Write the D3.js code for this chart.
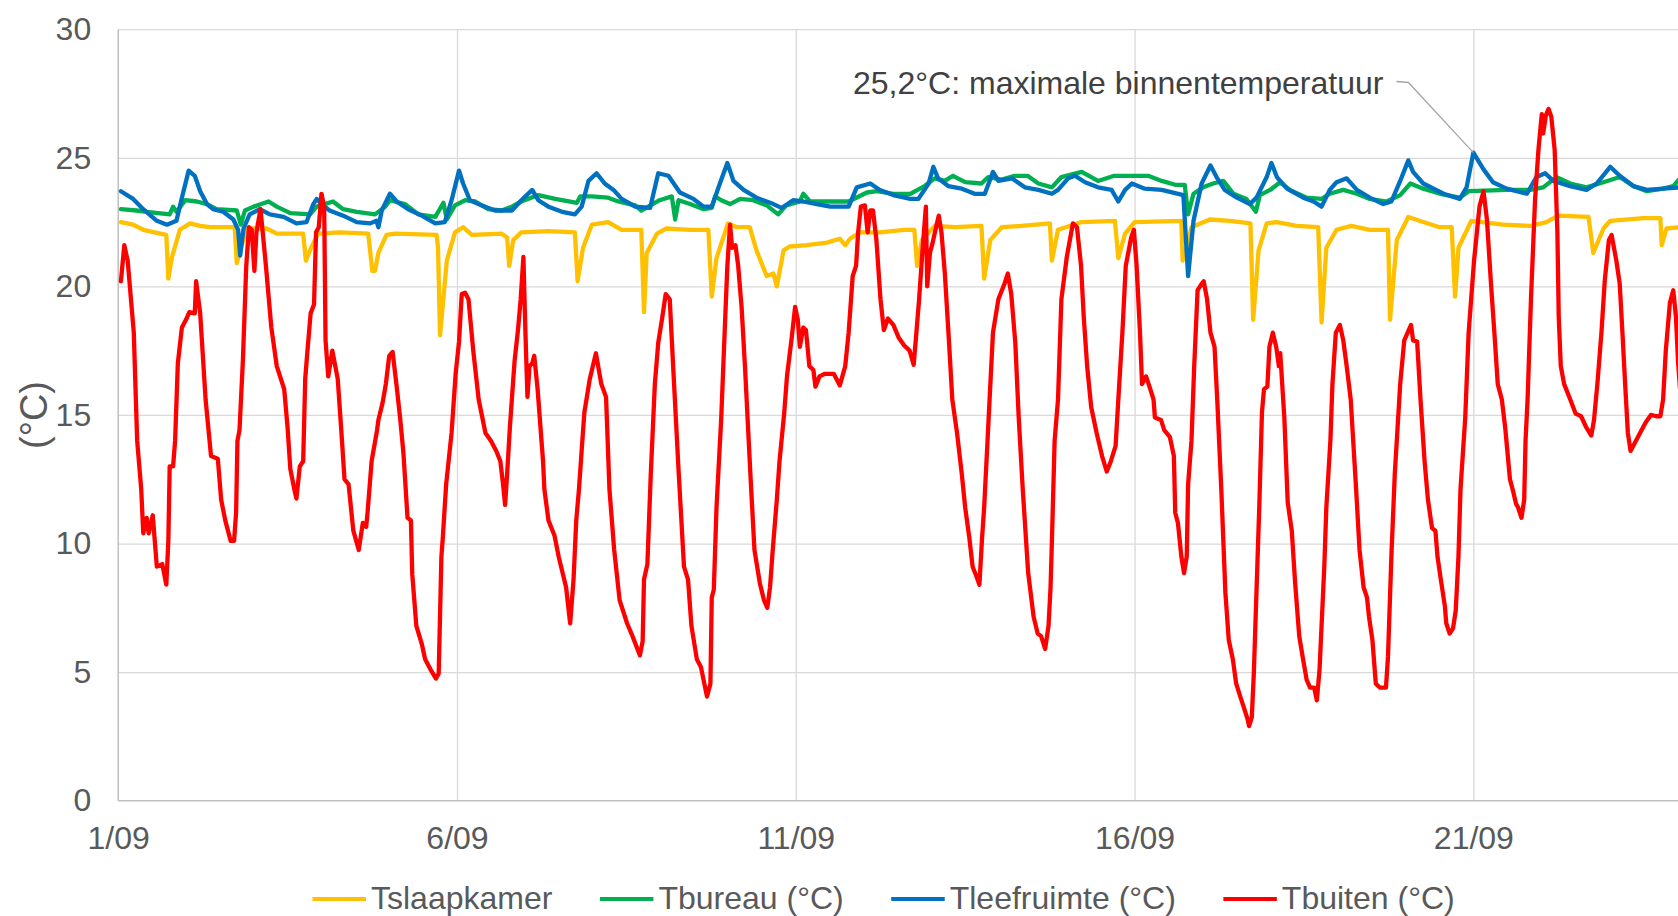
<!DOCTYPE html>
<html>
<head>
<meta charset="utf-8">
<script src="https://cdn.jsdelivr.net/npm/d3@7"></script>
<style>
  body { margin: 0; background: #fff; }
  svg { display: block; font-family: "Liberation Sans", Arial, sans-serif; }
  .grid line { stroke: #d9d9d9; stroke-width: 1.3; }
  .grid path, .labels path { display: none; }
  .labels text { fill: #595959; font-size: 32px; }
</style>
</head>
<body>
<div id="chart"></div>
<script>
// tijd = dagen sinds 1/09 00:00, waarde in °C
const tickDagen = [0, 5, 10, 15, 20];
const yTicks = [0, 5, 10, 15, 20, 25, 30];
const seriesNamen = ['Tslaapkamer', 'Tbureau (°C)', 'Tleefruimte (°C)', 'Tbuiten (°C)'];
const seriesKleuren = ['#ffc000', '#00b050', '#0070c0', '#ff0000'];

const slaapkamer = [[0.04,22.5],[0.22,22.4],[0.37,22.2],[0.62,22.05],[0.71,22.0],[0.74,20.3],[0.79,21.1],[0.91,22.2],[1.06,22.45],[1.21,22.35],[1.36,22.3],[1.72,22.3],[1.75,20.9],[1.8,21.4],[1.9,22.25],[2.19,22.25],[2.34,22.05],[2.73,22.05],[2.77,21.0],[2.83,21.4],[2.95,22.05],[3.27,22.1],[3.69,22.05],[3.75,20.6],[3.79,20.6],[3.84,21.3],[3.96,22.0],[4.09,22.05],[4.7,22.0],[4.72,21.5],[4.75,18.1],[4.85,21.0],[4.97,22.1],[5.09,22.3],[5.22,22.0],[5.66,22.05],[5.74,21.9],[5.77,20.8],[5.83,21.8],[5.95,22.1],[6.35,22.15],[6.74,22.1],[6.78,20.2],[6.86,21.5],[6.99,22.4],[7.23,22.5],[7.43,22.2],[7.72,22.2],[7.76,19.0],[7.8,21.3],[7.95,22.05],[8.09,22.25],[8.44,22.2],[8.71,22.2],[8.76,19.6],[8.83,21.1],[9.0,22.45],[9.13,22.3],[9.32,22.3],[9.42,21.4],[9.57,20.4],[9.67,20.5],[9.72,20.0],[9.82,21.4],[9.91,21.55],[10.16,21.6],[10.46,21.7],[10.65,21.85],[10.73,21.6],[10.8,21.85],[10.95,22.1],[11.24,22.1],[11.6,22.2],[11.75,22.2],[11.79,20.8],[11.86,21.8],[12.05,22.35],[12.35,22.3],[12.74,22.35],[12.78,20.3],[12.87,21.8],[13.04,22.3],[13.33,22.35],[13.75,22.45],[13.78,21.0],[13.87,22.2],[14.22,22.5],[14.71,22.55],[14.76,21.1],[14.86,22.05],[15.0,22.5],[15.69,22.55],[15.71,21.0],[15.77,21.5],[15.84,22.3],[16.11,22.6],[16.41,22.55],[16.71,22.45],[16.75,18.7],[16.83,21.4],[16.95,22.45],[17.1,22.5],[17.39,22.35],[17.71,22.3],[17.76,18.6],[17.83,21.5],[17.98,22.2],[18.2,22.35],[18.47,22.2],[18.74,22.2],[18.77,18.7],[18.87,21.8],[19.04,22.7],[19.26,22.5],[19.5,22.3],[19.68,22.3],[19.73,19.6],[19.78,21.5],[19.97,22.55],[20.44,22.4],[20.84,22.35],[21.08,22.5],[21.25,22.75],[21.7,22.7],[21.77,21.3],[21.92,22.25],[22.02,22.55],[22.51,22.65],[22.76,22.65],[22.78,21.6],[22.85,22.25],[23.05,22.3]];

const bureau = [[0.04,23.0],[0.27,22.95],[0.42,22.9],[0.76,22.8],[0.81,23.1],[0.86,22.9],[0.99,23.35],[1.16,23.3],[1.31,23.2],[1.45,23.0],[1.75,22.95],[1.81,22.4],[1.87,22.95],[2.0,23.1],[2.22,23.3],[2.34,23.1],[2.54,22.85],[2.83,22.8],[2.93,23.1],[3.17,23.3],[3.32,23.0],[3.52,22.9],[3.79,22.8],[3.94,23.1],[4.01,23.35],[4.23,23.2],[4.43,22.8],[4.68,22.7],[4.8,23.25],[4.85,22.6],[4.97,23.15],[5.12,23.35],[5.27,23.3],[5.46,23.0],[5.66,22.95],[5.81,23.1],[5.95,23.3],[6.2,23.55],[6.45,23.4],[6.77,23.25],[6.82,23.5],[6.99,23.5],[7.23,23.45],[7.38,23.3],[7.63,23.15],[7.72,22.95],[7.99,23.35],[8.17,23.5],[8.22,22.6],[8.27,23.35],[8.44,23.2],[8.64,23.0],[8.76,23.05],[8.81,23.5],[8.9,23.35],[9.03,23.2],[9.18,23.4],[9.37,23.35],[9.57,23.15],[9.74,22.8],[9.86,23.15],[10.06,23.3],[10.11,23.6],[10.21,23.3],[10.78,23.3],[11.05,23.65],[11.2,23.7],[11.44,23.6],[11.69,23.6],[11.9,23.9],[12.05,24.2],[12.2,24.1],[12.32,24.3],[12.5,24.05],[12.74,24.0],[12.84,24.25],[13.04,24.15],[13.23,24.3],[13.42,24.3],[13.58,24.0],[13.78,23.85],[13.92,24.25],[14.22,24.45],[14.46,24.1],[14.7,24.3],[14.96,24.3],[15.2,24.3],[15.4,24.1],[15.6,23.95],[15.74,23.95],[15.79,22.8],[15.87,23.6],[16.01,23.85],[16.16,24.0],[16.31,24.1],[16.46,23.6],[16.65,23.4],[16.79,22.9],[16.85,23.55],[17.0,23.75],[17.15,24.05],[17.29,23.75],[17.54,23.45],[17.76,23.4],[17.88,23.6],[18.08,23.75],[18.28,23.6],[18.47,23.4],[18.72,23.3],[18.92,23.55],[19.07,24.0],[19.26,23.8],[19.51,23.6],[19.8,23.45],[19.93,23.7],[20.5,23.75],[20.84,23.75],[21.03,23.85],[21.23,24.25],[21.43,24.0],[21.67,23.85],[21.92,24.05],[22.16,24.25],[22.36,23.9],[22.56,23.7],[22.8,23.8],[22.95,23.9],[23.05,24.2]];

const leefruimte = [[0.04,23.7],[0.22,23.4],[0.37,23.0],[0.57,22.55],[0.72,22.4],[0.86,22.55],[0.94,23.45],[1.04,24.5],[1.13,24.3],[1.21,23.7],[1.31,23.2],[1.4,23.0],[1.55,22.9],[1.7,22.6],[1.77,22.2],[1.8,21.2],[1.85,22.25],[1.94,22.8],[2.09,23.0],[2.24,22.8],[2.44,22.7],[2.63,22.45],[2.78,22.5],[2.88,23.2],[2.93,23.4],[3.0,23.2],[3.12,22.95],[3.32,22.75],[3.52,22.5],[3.72,22.45],[3.81,22.55],[3.84,22.3],[3.89,22.95],[4.01,23.6],[4.11,23.3],[4.28,23.0],[4.48,22.75],[4.68,22.45],[4.82,22.5],[4.92,23.35],[5.03,24.5],[5.09,24.0],[5.19,23.35],[5.36,23.15],[5.56,22.95],[5.81,22.95],[5.95,23.35],[6.11,23.75],[6.2,23.35],[6.35,23.1],[6.55,22.9],[6.74,22.8],[6.84,23.1],[6.94,24.1],[7.06,24.4],[7.18,24.0],[7.31,23.75],[7.43,23.4],[7.63,23.1],[7.85,23.05],[7.97,24.4],[8.12,24.3],[8.29,23.65],[8.49,23.4],[8.64,23.1],[8.76,23.1],[8.88,24.0],[8.99,24.8],[9.08,24.1],[9.23,23.75],[9.42,23.45],[9.67,23.2],[9.79,23.05],[9.96,23.35],[10.11,23.3],[10.31,23.2],[10.51,23.1],[10.78,23.1],[10.9,23.85],[11.1,24.0],[11.24,23.75],[11.44,23.55],[11.69,23.4],[11.81,23.4],[11.96,24.0],[12.03,24.65],[12.1,24.2],[12.25,23.9],[12.45,23.8],[12.64,23.6],[12.79,23.6],[12.91,24.45],[12.99,24.1],[13.19,24.2],[13.38,23.85],[13.58,23.75],[13.78,23.6],[13.87,23.75],[14.02,24.2],[14.12,24.3],[14.27,24.05],[14.46,23.85],[14.66,23.75],[14.76,23.3],[14.86,23.75],[14.96,24.0],[15.15,23.8],[15.4,23.75],[15.72,23.55],[15.79,20.4],[15.87,22.55],[15.99,24.0],[16.12,24.7],[16.21,24.25],[16.33,23.75],[16.51,23.45],[16.7,23.2],[16.8,23.45],[16.95,24.25],[17.02,24.8],[17.1,24.25],[17.25,23.8],[17.49,23.45],[17.64,23.3],[17.76,23.1],[17.88,23.75],[17.98,24.05],[18.13,24.2],[18.28,23.75],[18.47,23.45],[18.67,23.2],[18.79,23.3],[18.92,24.1],[19.04,24.9],[19.11,24.45],[19.26,24.0],[19.56,23.6],[19.8,23.4],[19.9,23.85],[20.0,25.2],[20.15,24.55],[20.29,24.05],[20.49,23.8],[20.79,23.6],[20.93,24.25],[21.06,24.4],[21.18,24.1],[21.43,23.9],[21.67,23.75],[21.82,24.0],[22.02,24.65],[22.16,24.3],[22.36,23.9],[22.56,23.75],[22.8,23.8],[23.05,23.85]];

const buiten = [[0.04,20.2],[0.09,21.6],[0.14,21.0],[0.23,18.2],[0.28,14.0],[0.34,12.1],[0.37,10.4],[0.42,11.0],[0.45,10.4],[0.51,11.1],[0.57,9.1],[0.65,9.2],[0.71,8.4],[0.74,10.1],[0.76,13.0],[0.81,13.0],[0.84,14.0],[0.88,17.0],[0.94,18.4],[1.0,18.7],[1.05,19.0],[1.13,18.95],[1.15,20.2],[1.21,18.95],[1.29,15.6],[1.37,13.4],[1.47,13.3],[1.52,11.7],[1.58,10.9],[1.66,10.1],[1.71,10.1],[1.74,11.2],[1.76,14.0],[1.79,14.4],[1.84,17.1],[1.89,20.8],[1.93,22.3],[1.97,22.2],[2.01,20.6],[2.04,22.1],[2.1,23.0],[2.18,20.8],[2.26,18.4],[2.34,16.9],[2.45,16.0],[2.5,14.5],[2.54,12.9],[2.6,12.1],[2.63,11.75],[2.68,13.0],[2.73,13.2],[2.76,16.4],[2.79,17.4],[2.84,18.95],[2.89,19.3],[2.92,22.1],[2.96,22.3],[3.0,23.6],[3.04,23.1],[3.06,17.9],[3.1,16.5],[3.16,17.5],[3.24,16.4],[3.29,14.5],[3.34,12.5],[3.4,12.3],[3.47,10.5],[3.55,9.75],[3.61,10.8],[3.66,10.65],[3.68,11.2],[3.74,13.2],[3.82,14.4],[3.84,14.8],[3.9,15.45],[3.95,16.2],[4.0,17.3],[4.05,17.45],[4.11,16.1],[4.16,14.9],[4.21,13.5],[4.27,11.0],[4.32,10.9],[4.34,8.8],[4.4,6.8],[4.48,6.1],[4.53,5.5],[4.61,5.1],[4.69,4.75],[4.73,4.95],[4.77,9.5],[4.79,10.2],[4.84,12.3],[4.92,14.3],[4.98,16.6],[5.03,17.85],[5.07,19.7],[5.12,19.75],[5.17,19.5],[5.24,17.5],[5.32,15.6],[5.42,14.3],[5.5,14.0],[5.58,13.6],[5.64,13.2],[5.68,12.3],[5.71,11.5],[5.74,12.7],[5.78,14.5],[5.85,17.1],[5.9,18.3],[5.94,19.5],[5.98,21.15],[6.01,18.2],[6.04,15.7],[6.07,16.9],[6.11,17.0],[6.14,17.3],[6.19,16.0],[6.27,13.2],[6.29,12.1],[6.35,10.9],[6.44,10.3],[6.5,9.5],[6.61,8.3],[6.67,6.9],[6.72,8.6],[6.76,10.9],[6.8,12.1],[6.85,14.0],[6.88,15.1],[6.96,16.4],[7.05,17.4],[7.13,16.2],[7.2,15.7],[7.25,12.1],[7.32,9.75],[7.4,7.8],[7.51,6.9],[7.59,6.4],[7.7,5.65],[7.74,6.2],[7.76,8.6],[7.81,9.2],[7.86,12.7],[7.92,16.2],[7.97,17.8],[8.03,18.8],[8.08,19.7],[8.14,19.5],[8.19,16.9],[8.27,12.85],[8.35,9.1],[8.41,8.6],[8.46,6.8],[8.54,5.5],[8.6,5.2],[8.65,4.55],[8.69,4.05],[8.74,4.55],[8.76,7.9],[8.79,8.2],[8.83,11.4],[8.9,14.9],[8.95,18.2],[8.99,20.8],[9.03,22.4],[9.06,21.5],[9.11,21.6],[9.15,20.8],[9.2,19.2],[9.25,16.9],[9.33,12.7],[9.39,9.75],[9.47,8.45],[9.53,7.8],[9.58,7.5],[9.62,8.3],[9.66,9.75],[9.72,11.7],[9.76,13.2],[9.83,15.1],[9.87,16.5],[9.94,18.0],[9.99,19.2],[10.03,18.7],[10.06,17.65],[10.11,18.4],[10.15,18.3],[10.2,16.9],[10.26,16.75],[10.29,16.1],[10.35,16.5],[10.43,16.6],[10.56,16.6],[10.65,16.15],[10.73,16.9],[10.78,18.2],[10.84,20.4],[10.89,20.8],[10.92,22.1],[10.96,23.1],[11.02,23.15],[11.06,22.1],[11.1,22.95],[11.14,22.95],[11.19,21.8],[11.25,19.5],[11.3,18.3],[11.36,18.75],[11.44,18.5],[11.52,18.0],[11.6,17.7],[11.68,17.5],[11.74,16.95],[11.78,18.2],[11.82,19.5],[11.87,21.4],[11.92,23.1],[11.94,20.0],[11.98,21.3],[12.02,21.7],[12.07,22.3],[12.11,22.75],[12.15,22.1],[12.2,20.5],[12.26,17.9],[12.31,15.6],[12.38,14.3],[12.45,12.7],[12.5,11.4],[12.56,10.25],[12.61,9.1],[12.67,8.7],[12.71,8.4],[12.75,10.25],[12.78,11.4],[12.83,14.0],[12.86,15.6],[12.91,18.2],[12.99,19.5],[13.08,20.1],[13.13,20.5],[13.18,19.7],[13.24,17.8],[13.29,14.9],[13.35,12.1],[13.43,8.85],[13.51,7.15],[13.57,6.5],[13.62,6.4],[13.68,5.9],[13.73,6.8],[13.76,8.3],[13.78,10.1],[13.82,14.0],[13.87,15.6],[13.92,19.5],[14.0,21.15],[14.09,22.45],[14.15,22.3],[14.21,20.8],[14.25,18.8],[14.3,16.9],[14.36,15.3],[14.44,14.3],[14.52,13.4],[14.59,12.8],[14.65,13.2],[14.72,13.8],[14.76,15.6],[14.82,18.2],[14.87,20.8],[14.95,21.9],[14.99,22.2],[15.03,20.8],[15.08,18.2],[15.11,16.2],[15.17,16.5],[15.22,16.1],[15.28,15.6],[15.3,14.9],[15.39,14.8],[15.44,14.4],[15.52,14.15],[15.58,13.4],[15.6,11.2],[15.64,10.8],[15.69,9.5],[15.73,8.85],[15.77,9.5],[15.79,12.3],[15.84,14.0],[15.88,16.9],[15.93,19.85],[15.99,20.1],[16.02,20.2],[16.07,19.5],[16.12,18.2],[16.18,17.65],[16.22,15.6],[16.28,12.1],[16.34,8.1],[16.39,6.25],[16.45,5.5],[16.5,4.55],[16.56,4.05],[16.61,3.65],[16.67,3.15],[16.69,2.9],[16.73,3.25],[16.76,4.95],[16.8,8.2],[16.84,11.4],[16.88,15.1],[16.91,16.0],[16.96,16.1],[16.99,17.65],[17.04,18.2],[17.09,17.65],[17.13,16.9],[17.15,17.4],[17.21,14.9],[17.26,11.6],[17.32,10.5],[17.37,8.45],[17.43,6.4],[17.48,5.6],[17.54,4.7],[17.59,4.4],[17.65,4.4],[17.69,3.9],[17.73,5.1],[17.75,6.25],[17.8,9.1],[17.83,11.4],[17.89,14.0],[17.92,16.2],[17.97,18.2],[18.03,18.5],[18.08,17.9],[18.13,16.9],[18.19,15.6],[18.27,12.1],[18.32,9.75],[18.38,8.3],[18.43,7.9],[18.46,7.15],[18.51,6.25],[18.56,4.55],[18.62,4.4],[18.71,4.4],[18.74,5.6],[18.79,9.5],[18.84,12.7],[18.92,16.2],[18.98,17.9],[19.03,18.2],[19.08,18.5],[19.11,17.9],[19.17,17.85],[19.22,15.6],[19.28,13.2],[19.33,11.7],[19.39,10.6],[19.44,10.5],[19.47,9.5],[19.52,8.6],[19.58,7.55],[19.6,6.9],[19.65,6.5],[19.7,6.7],[19.74,7.4],[19.78,9.5],[19.81,12.1],[19.88,14.9],[19.93,18.2],[20.01,21.0],[20.09,23.1],[20.15,23.7],[20.2,22.6],[20.26,20.1],[20.31,18.2],[20.36,16.2],[20.42,15.6],[20.47,14.5],[20.54,12.5],[20.58,12.1],[20.63,11.55],[20.66,11.4],[20.71,11.0],[20.75,11.7],[20.77,14.0],[20.8,15.6],[20.85,19.5],[20.91,23.35],[20.96,25.3],[21.01,26.7],[21.03,25.95],[21.07,26.65],[21.11,26.9],[21.15,26.6],[21.2,25.3],[21.24,22.1],[21.26,18.8],[21.29,16.9],[21.34,16.2],[21.43,15.6],[21.51,15.05],[21.59,14.95],[21.66,14.55],[21.74,14.2],[21.78,14.8],[21.83,16.2],[21.89,18.2],[21.94,20.25],[22.0,21.8],[22.04,22.0],[22.11,21.0],[22.16,20.1],[22.2,18.2],[22.24,16.2],[22.28,14.3],[22.32,13.6],[22.38,13.9],[22.46,14.3],[22.54,14.7],[22.62,15.0],[22.7,14.95],[22.76,14.95],[22.8,15.6],[22.84,17.5],[22.9,19.35],[22.95,19.85],[22.99,18.8],[23.02,17.1],[23.05,16.0]];

const piek = { dag: 20.0, waarde: 25.2, tekst: '25,2°C: maximale binnentemperatuur' };

const W = 1678, H = 916,
      LEFT = 118.2, TOP = 29.2, BOTTOM = 800.7,
      EIND_DAG = 23.02,
      FONT = 32;

const start = new Date(2021, 8, 1);
const datum = d => new Date(start.getTime() + d * 864e5);

const svg = d3.select('#chart').append('svg')
  .attr('width', W)
  .attr('height', H);

const x = d3.scaleTime().domain([start, datum(EIND_DAG)]).range([LEFT, W]);
const y = d3.scaleLinear().domain([0, 30]).range([BOTTOM, TOP]);

// rasterlijnen
svg.append('g')
  .attr('class', 'grid')
  .attr('transform', `translate(${LEFT},0)`)
  .call(d3.axisLeft(y).tickValues(yTicks.slice(1)).tickSize(-(W - LEFT)).tickFormat(''));

svg.append('g')
  .attr('class', 'grid')
  .attr('transform', `translate(0,${BOTTOM})`)
  .call(d3.axisBottom(x).tickValues(tickDagen.slice(1).map(datum)).tickSize(-(BOTTOM - TOP)).tickFormat(''));

// assen
svg.append('line')
  .attr('x1', LEFT).attr('x2', LEFT)
  .attr('y1', TOP).attr('y2', BOTTOM)
  .attr('stroke', '#bfbfbf').attr('stroke-width', 1.5);
svg.append('line')
  .attr('x1', LEFT).attr('x2', W)
  .attr('y1', BOTTOM).attr('y2', BOTTOM)
  .attr('stroke', '#bfbfbf').attr('stroke-width', 1.5);

svg.append('g')
  .attr('class', 'labels')
  .attr('transform', `translate(${LEFT},0)`)
  .call(d3.axisLeft(y).tickValues(yTicks).tickSize(0).tickPadding(27))
  .selectAll('text').attr('font-size', FONT);

svg.append('g')
  .attr('class', 'labels')
  .attr('transform', `translate(0,${BOTTOM})`)
  .call(d3.axisBottom(x).tickValues(tickDagen.map(datum)).tickSize(0).tickPadding(26)
    .tickFormat(d3.timeFormat('%-d/%m')));

svg.selectAll('.labels .tick line').remove();

// y-as titel
svg.append('text')
  .attr('transform', `translate(47,${(TOP + BOTTOM) / 2}) rotate(-90)`)
  .attr('text-anchor', 'middle')
  .attr('fill', '#595959')
  .attr('font-size', 38)
  .text('(°C)');

// lijnen
const line = d3.line()
  .x(d => x(datum(d[0])))
  .y(d => y(d[1]));

const reeksen = [slaapkamer, bureau, leefruimte, buiten];

svg.append('g')
  .selectAll('path')
  .data(reeksen)
  .enter()
  .append('path')
  .attr('d', line)
  .attr('fill', 'none')
  .attr('stroke', (d, i) => seriesKleuren[i])
  .attr('stroke-width', 4.3)
  .attr('stroke-linejoin', 'round')
  .attr('stroke-linecap', 'round');

// annotatie
const ann = svg.append('text')
  .attr('x', 853)
  .attr('y', 94.3)
  .attr('fill', '#404040')
  .attr('font-size', FONT)
  .text(piek.tekst);
const annEind = 853 + ann.node().getComputedTextLength();
const px = x(datum(piek.dag)), py = y(piek.waarde);
svg.append('polyline')
  .attr('points', [[annEind + 13, 81.5], [annEind + 25, 82.5], [px, py]].map(p => p.join(',')).join(' '))
  .attr('fill', 'none')
  .attr('stroke', '#a6a6a6')
  .attr('stroke-width', 1.3);

// legenda
const legend = svg.append('g').attr('transform', 'translate(0,909)');
let lx = 312.5;
seriesNamen.forEach((naam, i) => {
  legend.append('line')
    .attr('x1', lx).attr('x2', lx + 53.5)
    .attr('y1', -10).attr('y2', -10)
    .attr('stroke', seriesKleuren[i])
    .attr('stroke-width', 4);
  const t = legend.append('text')
    .attr('x', lx + 58.5)
    .attr('fill', '#595959')
    .attr('font-size', FONT)
    .text(naam);
  lx += 58.5 + t.node().getComputedTextLength() + 47.5;
});
</script>
</body>
</html>
